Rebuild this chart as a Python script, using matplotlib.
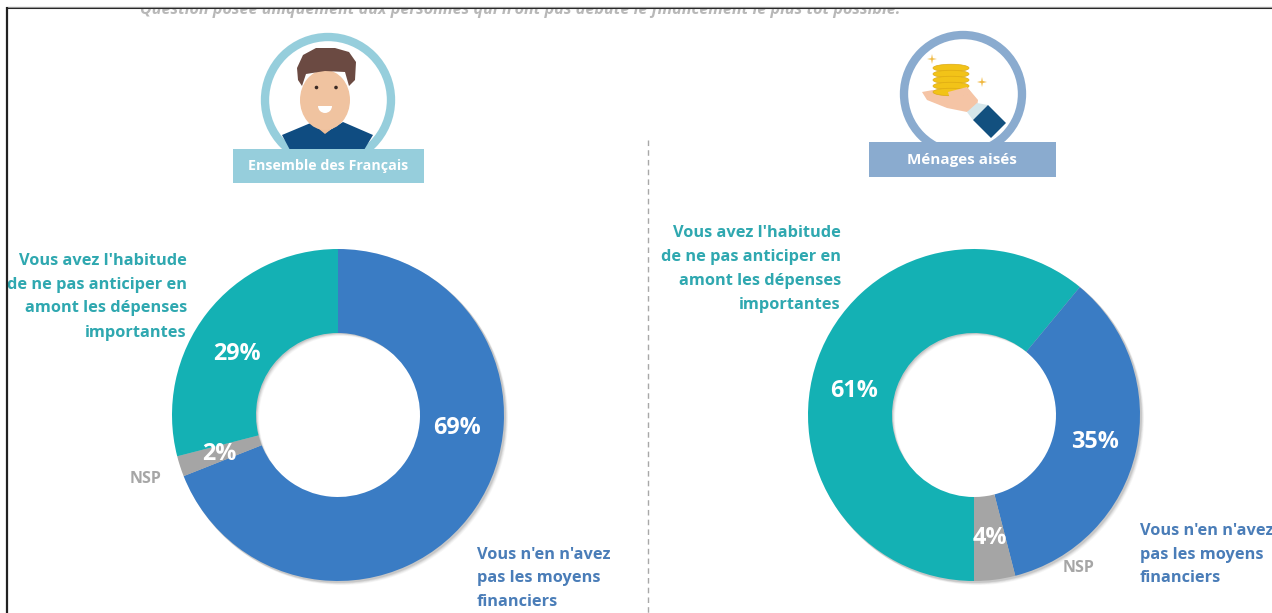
import matplotlib
matplotlib.use("Agg")
import matplotlib.pyplot as plt
from matplotlib.patches import Circle, Ellipse, Polygon, Rectangle, Wedge, Annulus

W, H = 1272, 613
plt.rcParams['font.family'] = ['Open Sans', 'DejaVu Sans']

left_values = [69, 2, 29]
left_colors = ['#3A7CC4', '#A5A5A5', '#14B1B4']
left_labels = ['69%', '2%', '29%']
right_values = [61, 35, 4]
right_colors = ['#14B1B4', '#3A7CC4', '#A5A5A5']
right_labels = ['61%', '35%', '4%']
note = "Question posée uniquement aux personnes qui n'ont pas débuté le financement le plus tôt possible."
group_left = "Ensemble des Français"
group_right = "Ménages aisés"
label_teal = ["Vous avez l'habitude", "de ne pas anticiper en", "amont les dépenses", "importantes"]
label_blue = ["Vous n'en n'avez", "pas les moyens", "financiers"]
label_nsp = "NSP"

TEAL_T, BLUE_T, GREY_T = '#2FA8B0', '#4A7DB8', '#A6A6A6'

fig = plt.figure(figsize=(W / 100, H / 100), dpi=100, facecolor='white')


def px_axes(z):
    a = fig.add_axes([0, 0, 1, 1], zorder=z)
    a.set_xlim(0, W)
    a.set_ylim(H, 0)
    a.axis('off')
    a.patch.set_alpha(0)
    return a


bg = px_axes(0)
fg = px_axes(5)

R, r = 166, 82
centers = [(338, 415), (974, 415)]

# soft shadow under each ring
for cx, cy in centers:
    for d, al in [(5, .05), (4, .07), (3, .1), (2, .14)]:
        bg.add_patch(Annulus((cx + d * .7, cy + d * .7), R + .5, R - r, color='#555555', alpha=al, lw=0))


def donut(center, values, colors, start):
    cx, cy = center
    ax = fig.add_axes([(cx - R) / W, 1 - (cy + R) / H, 2 * R / W, 2 * R / H], zorder=2)
    ax.pie(values, colors=colors, startangle=start, counterclock=False, radius=1,
           wedgeprops=dict(width=(R - r) / R, linewidth=0))
    ax.set_xlim(-1, 1)
    ax.set_ylim(-1, 1)
    ax.patch.set_alpha(0)


donut(centers[0], left_values, left_colors, 90)
donut(centers[1], right_values, right_colors, -90)

# percentage labels
pct_pos_left = [(457, 428), (219, 454), (237, 354)]
pct_pos_right = [(854, 391), (1095, 442), (990, 538)]
for labs, pos in ((left_labels, pct_pos_left), (right_labels, pct_pos_right)):
    for s, (x, y) in zip(labs, pos):
        fg.text(x, y, s, color='white', fontsize=16.8, fontweight='bold', ha='center', va='center')

# category labels
TS = 11.8
for s, y in zip(label_teal, (261, 285, 308, 333)):
    fg.text(187, y, s, color=TEAL_T, fontsize=TS, fontweight='bold', ha='right', va='center')
for s, y in zip(label_teal, (233, 257, 281, 305)):
    fg.text(841, y, s, color=TEAL_T, fontsize=TS, fontweight='bold', ha='right', va='center')
for s, y in zip(label_blue, (555, 578, 602)):
    fg.text(477, y, s, color=BLUE_T, fontsize=TS, fontweight='bold', ha='left', va='center')
for s, y in zip(label_blue, (531, 555, 578)):
    fg.text(1140, y, s, color=BLUE_T, fontsize=TS, fontweight='bold', ha='left', va='center', clip_on=True)
fg.text(146, 479, label_nsp, color=GREY_T, fontsize=11.5, fontweight='bold', ha='center', va='center')
fg.text(1079, 568, label_nsp, color=GREY_T, fontsize=11.5, fontweight='bold', ha='center', va='center')

# divider
fg.plot([648, 648], [140, 613], color='#A8A8A8', lw=1, ls=(0, (4, 3)))

# --- person badge
cx, cy = 328, 100
fg.add_patch(Circle((cx, cy), 63, fc='white', ec='#96CEDC', lw=6))
shirt = [(282, 135), (313, 122), (325, 133), (343, 122), (373, 135), (364, 150), (290, 150)]
fg.add_patch(Polygon(shirt, fc='#0F4C81', lw=0))
fg.add_patch(Polygon([(313, 105), (338, 105), (338, 124), (325, 134), (313, 124)], fc='#EDBD98', lw=0))
fg.add_patch(Ellipse((325, 100), 50, 60, fc='#F0C3A0', lw=0))
hair = [(298, 80), (302, 86), (306, 74), (325, 71), (345, 72), (349, 86), (355, 80), (356, 62),
        (349, 52), (335, 48), (316, 48), (303, 55), (297, 68)]
fg.add_patch(Polygon(hair, fc='#6B4A42', lw=0))
for ex in (316.5, 336):
    fg.add_patch(Circle((ex, 87.5), 1.8, fc='#3A2A25', lw=0))
fg.add_patch(Wedge((325, 106), 7, 0, 180, fc='white', lw=0))
fg.add_patch(Rectangle((233, 149), 191, 34, fc='#96CEDC', lw=0))
fg.text(328, 166, group_left, color='white', fontsize=10.3, fontweight='bold', ha='center', va='center')

# --- wealth badge
cx, cy = 963, 94
fg.add_patch(Circle((cx, cy), 59, fc='white', ec='#8AABCF', lw=6))
hand = [(922, 92), (933, 90), (948, 92), (967, 87), (978, 100), (977, 107), (967, 112), (947, 108), (927, 100)]
fg.add_patch(Polygon(hand, fc='#F5C4A5', lw=0))
for y in (68, 74, 80, 86, 92):
    fg.add_patch(Ellipse((951, y), 36, 7.5, fc='#F2C318', ec='#DDAA14', lw=.5))
fg.add_patch(Polygon([(948, 92), (967, 87), (972, 94), (950, 99)], fc='#F5C4A5', lw=0))
fg.add_patch(Polygon([(967, 112), (977, 103), (988, 105), (973, 120)], fc='#D5E6EA', lw=0))
fg.add_patch(Polygon([(973, 120), (988, 105), (1006, 123), (991, 138)], fc='#12507F', lw=0))
fg.add_patch(Polygon([(932, 54), (932.8, 58.2), (937, 59), (932.8, 59.8), (932, 64), (931.2, 59.8), (927, 59), (931.2, 58.2)], fc='#F0B840', lw=0))
fg.add_patch(Polygon([(982, 77), (982.8, 81), (987, 82), (982.8, 83), (982, 87), (981.2, 83), (977, 82), (981.2, 81)], fc='#F0B840', lw=0))
fg.add_patch(Rectangle((869, 142), 187, 35, fc='#8AABCF', lw=0))
fg.text(962, 160, group_right, color='white', fontsize=11, fontweight='bold', ha='center', va='center')

# --- clipped note and frame
fg.text(520, 10.5, note, color='#B8B8B8', fontsize=11.6, fontweight='bold', fontstyle='italic', ha='center', va='center', zorder=3)
fg.add_patch(Rectangle((0, 0), W, 7, fc='white', lw=0, zorder=4))
fg.plot([5.5, W], [8, 8], color='#222222', lw=1.5, zorder=5, solid_capstyle='butt')
fg.plot([5.5, W], [7, 7], color='#999999', lw=.8, zorder=5, solid_capstyle='butt')
fg.plot([6.5, 6.5], [7, H], color='#222222', lw=1.6, zorder=5, solid_capstyle='butt')

fig.savefig('out.png', dpi=100, facecolor='white')
